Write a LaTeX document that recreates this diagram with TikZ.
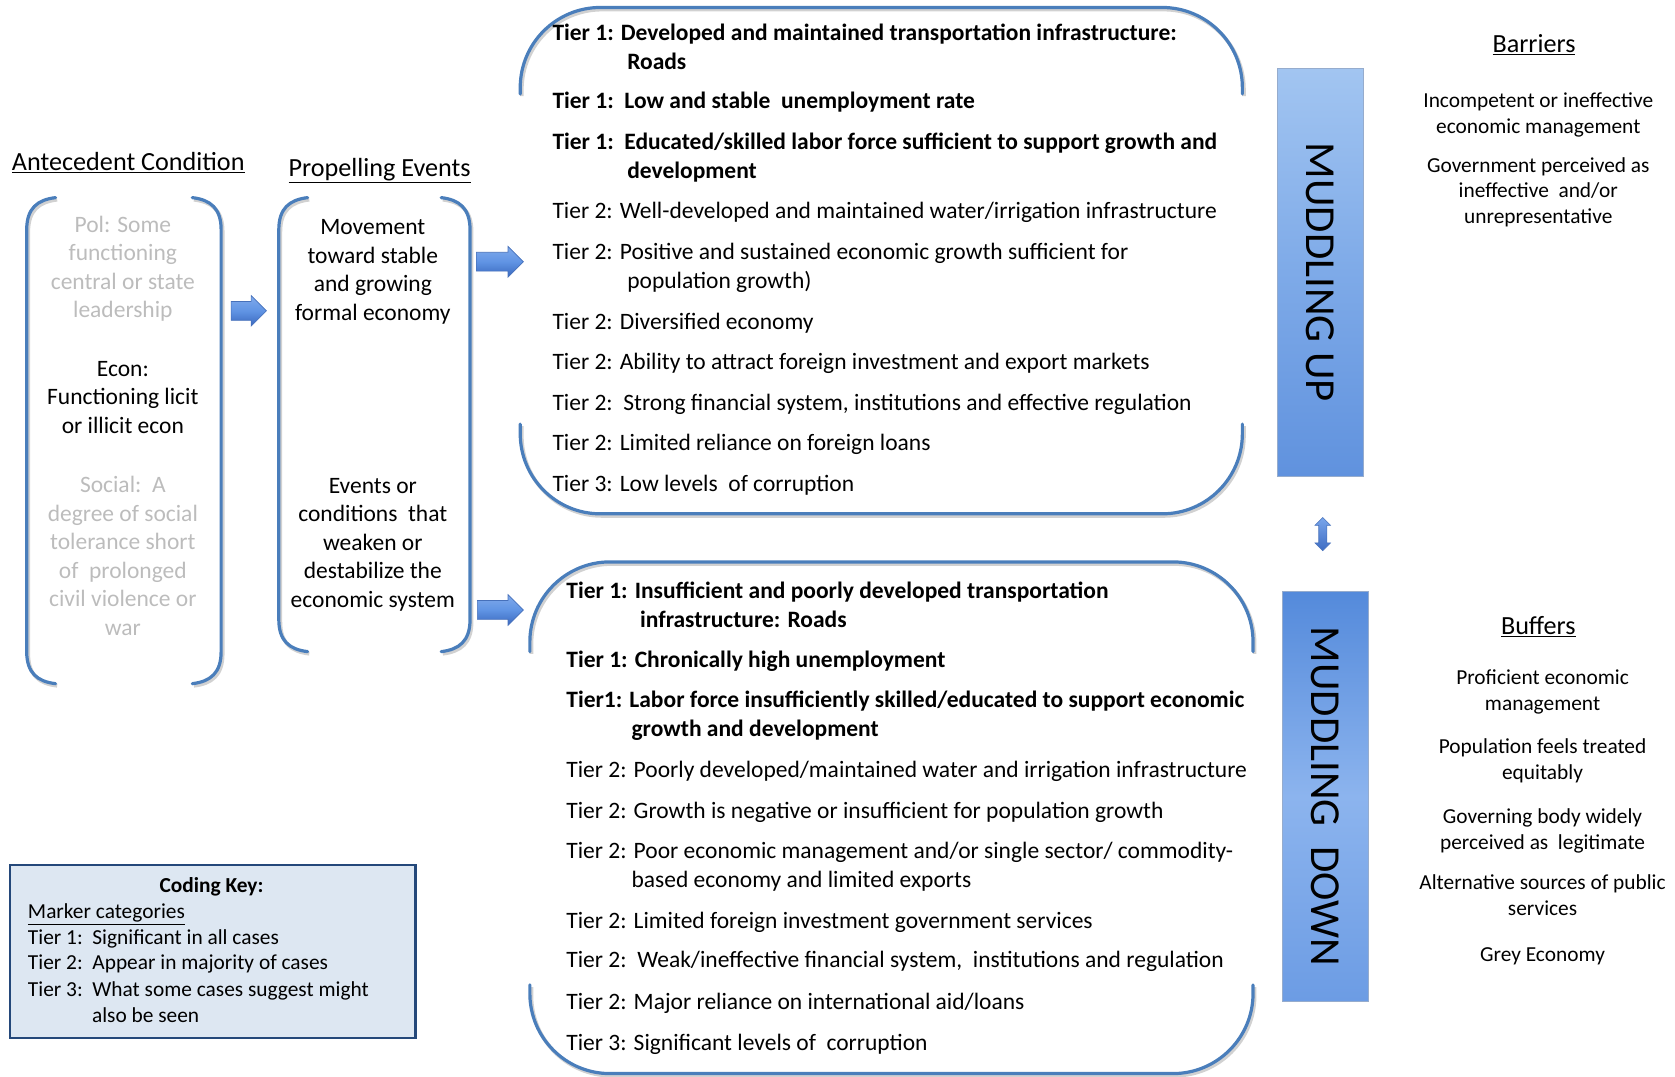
\documentclass[tikz,border=0pt]{standalone}
\usepackage{fontspec}
\setmainfont{Carlito}
\usetikzlibrary{shapes.arrows,calc}

\definecolor{brkblue}{RGB}{74,126,187}
\definecolor{softgray}{RGB}{188,188,188}
\definecolor{arrowedge}{RGB}{70,112,186}
\definecolor{keyfill}{RGB}{221,231,242}
\definecolor{keyedge}{RGB}{36,72,122}
\definecolor{baredge}{RGB}{150,172,205}

% a pair of round brackets hugging the invisible frame node #1
\newcommand\parenpair[1]{%
  \draw[brk] ($(#1.north west)+(27,0)$) .. controls +(-17,2) and +(0,-20) .. ($(#1.north west)+(0,30)$)
     -- ($(#1.south west)+(0,-30)$) .. controls +(0,20) and +(-17,-2) .. ($(#1.south west)+(27,0)$);
  \draw[brk] ($(#1.north east)+(-27,0)$) .. controls +(17,2) and +(0,-20) .. ($(#1.north east)+(0,30)$)
     -- ($(#1.south east)+(0,-30)$) .. controls +(0,20) and +(17,-2) .. ($(#1.south east)+(-27,0)$);
}

\begin{document}
\begin{tikzpicture}[x=1pt,y=-1pt,
  frame/.style={draw=none,inner sep=0pt,outer sep=0pt},
  brk/.style={draw=brkblue,line width=3pt,line cap=round,
    preaction={draw=black!18,line width=3.4pt,transform canvas={shift={(1.5pt,-2pt)}}}},
  body/.style={font=\fontsize{22}{26.7}\selectfont,inner sep=0pt,align=center},
  tier/.style={font=\fontsize{22}{26.7}\selectfont,inner sep=0pt,anchor=base west},
  tierb/.style={tier,font=\fontsize{22}{26.7}\selectfont\bfseries},
  side/.style={font=\fontsize{20}{24.2}\selectfont,inner sep=0pt,align=center},
  keytxt/.style={font=\fontsize{20}{24.2}\selectfont,inner sep=0pt,anchor=base west},
  heading/.style={font=\fontsize{24.5}{29}\selectfont,inner sep=0pt,anchor=base},
  blockarrow/.style={shape=single arrow,draw=arrowedge,line width=0.6pt,
    top color={rgb,255:red,128;green,170;blue,235},
    bottom color={rgb,255:red,58;green,104;blue,190},
    middle color={rgb,255:red,96;green,148;blue,228},
    inner sep=0pt,text height=17pt,text depth=0pt,text width=0pt,
    single arrow head extend=5.5pt,single arrow tip angle=90,minimum width=28pt},
  bar/.style={draw=baredge,line width=0.6pt,inner sep=0pt,minimum width=80pt},
  bartext/.style={rotate=-90,font=\fontsize{40}{48}\selectfont,inner sep=0pt}
]
\useasboundingbox (0,0) rectangle (1568,1008);

% ---------------- headings ----------------
\node[heading,anchor=base west] (hAnte) at (11,160) {\underline{Antecedent Condition}};
\node[heading,anchor=base west] (hProp) at (270,165) {\underline{Propelling Events}};
\node[heading] (hBarr) at (1436,49) {\underline{Barriers}};
\node[heading] (hBuff) at (1440,594) {\underline{Buffers}};

% ---------------- antecedent condition ----------------
\node[frame,minimum width=182pt,minimum height=455pt] (ante) at (116,412.5) {};
\parenpair{ante}
\node[body,text=softgray] (pol) at (115,251.5) {Pol: Some\\functioning\\central or state\\leadership};
\node[body] (econ) at (115,372) {Econ:\\Functioning licit\\or illicit econ};
\node[body,text=softgray] (social) at (115,520.5) {Social:\ \ A\\degree of social\\tolerance short\\of\ \ prolonged\\civil violence or\\war};

% ---------------- propelling events ----------------
\node[frame,minimum width=179pt,minimum height=425pt] (prop) at (350.5,397.5) {};
\parenpair{prop}
\node[body] (moveUp) at (349,254.5) {Movement\\toward stable\\and growing\\formal economy};
\node[body] (weaken) at (349,510) {Events or\\conditions\ \ that\\weaken or\\destabilize the\\economic system};

% ---------------- block arrows ----------------
\node[blockarrow,minimum height=33pt] (arA) at (228.5,291) {};
\node[blockarrow,minimum height=44pt] (arB) at (463.5,245) {};
\node[blockarrow,minimum height=43pt] (arC) at (464,571) {};

% ---------------- muddling up markers ----------------
\node[frame,minimum width=676pt,minimum height=474pt] (upbox) at (825,244) {};
\draw[brk,rounded corners=75pt] ($(upbox.north west)+(0,81)$) -- (upbox.north west)
   -- (upbox.north east) -- ($(upbox.north east)+(0,81)$);
\draw[brk,rounded corners=75pt] ($(upbox.south west)+(0,-84)$) -- (upbox.south west)
   -- (upbox.south east) -- ($(upbox.south east)+(0,-84)$);

\node[tierb] (u1) at (517,38) {Tier 1: Developed and maintained transportation infrastructure:};
\node[tierb] (u1b) at (587,65) {Roads};
\node[tierb] (u2) at (517,102) {Tier 1:\ \ Low and stable\ \ unemployment rate};
\node[tierb] (u3) at (517,140) {Tier 1:\ \ Educated/skilled labor force sufficient to support growth and};
\node[tierb] (u3b) at (587,167) {development};
\node[tier] (u4) at (517,205) {Tier 2: Well-developed and maintained water/irrigation infrastructure};
\node[tier] (u5) at (517,243) {Tier 2: Positive and sustained economic growth sufficient for};
\node[tier] (u5b) at (587,270) {population growth)};
\node[tier] (u6) at (517,308) {Tier 2: Diversified economy};
\node[tier] (u7) at (517,346) {Tier 2: Ability to attract foreign investment and export markets};
\node[tier] (u8) at (517,384) {Tier 2:\ \ Strong financial system, institutions and effective regulation};
\node[tier] (u9) at (517,422) {Tier 2: Limited reliance on foreign loans};
\node[tier] (u10) at (517,460) {Tier 3: Low levels\ \ of corruption};

% ---------------- muddling down markers ----------------
\node[frame,minimum width=677pt,minimum height=479pt] (downbox) at (834.5,765.5) {};
\draw[brk,rounded corners=75pt] ($(downbox.north west)+(0,84)$) -- (downbox.north west)
   -- (downbox.north east) -- ($(downbox.north east)+(0,84)$);
\draw[brk,rounded corners=75pt] ($(downbox.south west)+(0,-83)$) -- (downbox.south west)
   -- (downbox.south east) -- ($(downbox.south east)+(0,-83)$);

\node[tierb] (d1) at (530,560) {Tier 1: Insufficient and poorly developed transportation};
\node[tierb] (d1b) at (599,587) {infrastructure: Roads};
\node[tierb] (d2) at (530,625) {Tier 1: Chronically high unemployment};
\node[tierb] (d3) at (530,662) {Tier1: Labor force insufficiently skilled/educated to support economic};
\node[tierb] (d3b) at (591,689) {growth and development};
\node[tier] (d4) at (530,728) {Tier 2: Poorly developed/maintained water and irrigation infrastructure};
\node[tier] (d5) at (530,766) {Tier 2: Growth is negative or insufficient for population growth};
\node[tier] (d6) at (530,804) {Tier 2: Poor economic management and/or single sector/ commodity-};
\node[tier] (d6b) at (591,831) {based economy and limited exports};
\node[tier] (d7) at (530,869) {Tier 2: Limited foreign investment government services};
\node[tier] (d8) at (530,906) {Tier 2:\ \ Weak/ineffective financial system,\ \ institutions and regulation};
\node[tier] (d9) at (530,945) {Tier 2: Major reliance on international aid/loans};
\node[tier] (d10) at (530,983) {Tier 3: Significant levels of\ \ corruption};

% ---------------- muddling bars ----------------
\node[bar,minimum height=382pt,
  top color={rgb,255:red,162;green,197;blue,241},
  bottom color={rgb,255:red,96;green,146;blue,222},
  middle color={rgb,255:red,126;green,170;blue,232}] (mup) at (1236,255) {};
\node[bartext] (mupText) at (mup.center) {MUDDLING UP};

\node[bar,minimum height=383pt,
  top color={rgb,255:red,84;green,138;blue,219},
  bottom color={rgb,255:red,108;green,156;blue,228},
  middle color={rgb,255:red,140;green,180;blue,238}] (mdown) at (1240.5,745.5) {};
\node[bartext] (mdownText) at (mdown.center) {MUDDLING\ \ DOWN};

\node[shape=double arrow,rotate=90,draw=arrowedge,line width=0.5pt,
  top color={rgb,255:red,120;green,165;blue,235},
  bottom color={rgb,255:red,62;green,108;blue,195},
  inner sep=0pt,text height=7pt,text depth=0pt,text width=0pt,
  double arrow head extend=3.5pt,double arrow tip angle=90,
  minimum height=31pt,minimum width=14pt] (swap) at ($(mup.south)!0.5!(mdown.north)$) {};

% ---------------- barriers and buffers ----------------
\node[side] (bar1) at (1440,108) {Incompetent or ineffective\\economic management};
\node[side] (bar2) at (1440,180) {Government perceived as\\ineffective\ \ and/or\\unrepresentative};

\node[side] (buf1) at (1444,648) {Proficient economic\\management};
\node[side] (buf2) at (1444,712) {Population feels treated\\equitably};
\node[side] (buf3) at (1444,778) {Governing body widely\\perceived as\ \ legitimate};
\node[side] (buf4) at (1444,838) {Alternative sources of public\\services};
\node[side] (buf5) at (1444,895) {Grey Economy};

% ---------------- coding key ----------------
\node[draw=keyedge,line width=2pt,fill=keyfill,minimum width=380pt,minimum height=162pt,inner sep=0pt]
  (key) at (199,891) {};
\node[side,font=\fontsize{20}{24.2}\selectfont\bfseries] (keyHead) at (198,830) {Coding Key:};
\node[keytxt] (keyCat) at (26,860) {\underline{Marker categories}};
\node[keytxt] (keyT1) at (26,884) {Tier 1:\ \ Significant in all cases};
\node[keytxt] (keyT2) at (26,908) {Tier 2:\ \ Appear in majority of cases};
\node[keytxt] (keyT3) at (26,933) {Tier 3:\ \ What some cases suggest might};
\node[keytxt] (keyT3b) at (86,957) {also be seen};
\end{tikzpicture}
\end{document}
